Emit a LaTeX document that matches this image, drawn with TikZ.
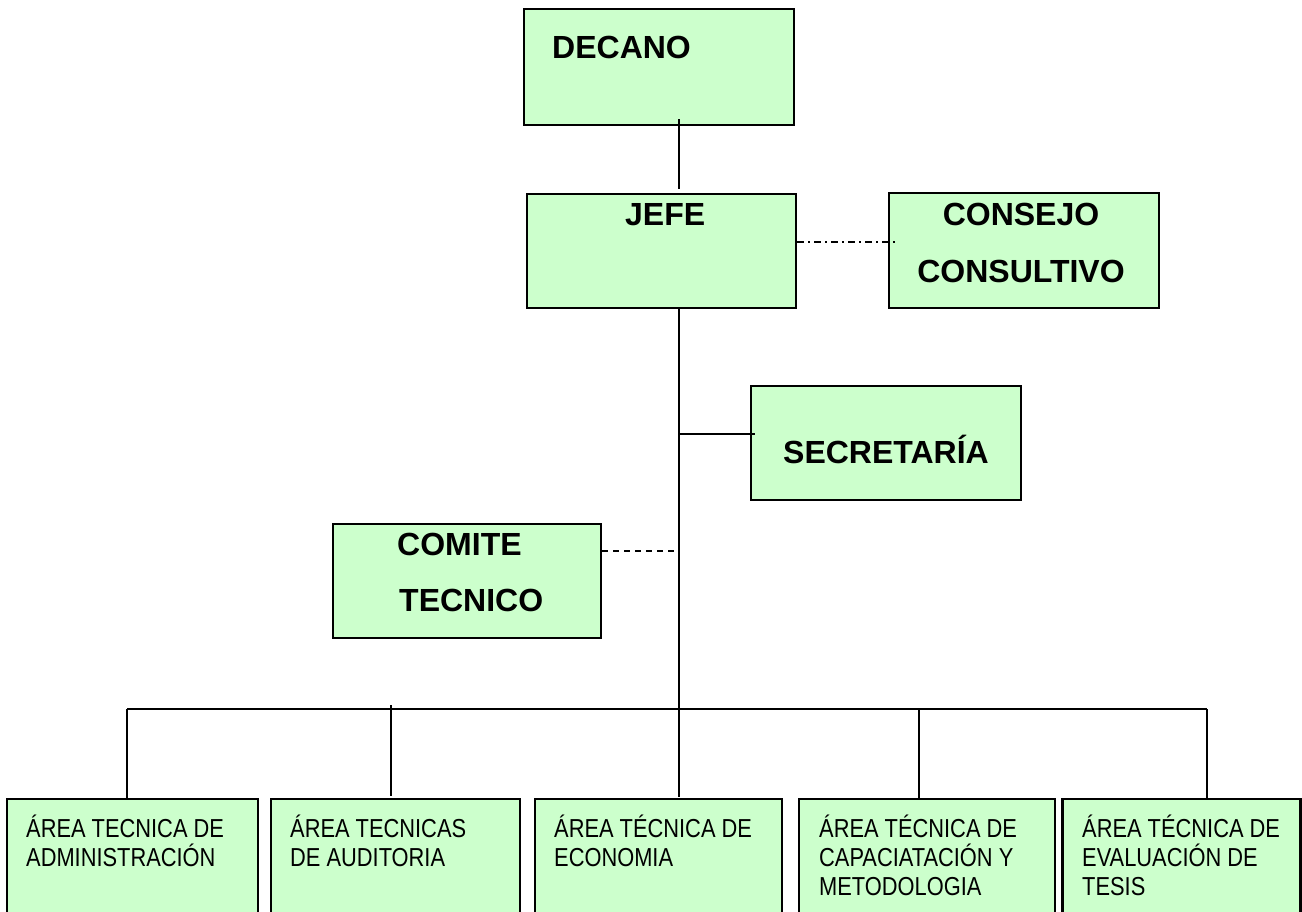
\documentclass[tikz,border=0pt]{standalone}
\usepackage{fontspec}
\setmainfont{Liberation Sans}
\newfontfamily\narrowfont{Liberation Sans}[FakeStretch=0.84]
\usetikzlibrary{calc}
\definecolor{boxgreen}{HTML}{CCFFCC}
\tikzset{
  box/.style={draw=black, line width=2.2pt, fill=boxgreen, rectangle, inner sep=0pt},
  lbl/.style={inner sep=0pt, anchor=base west, font=\bfseries\fontsize{32}{32}\selectfont},
  clbl/.style={inner sep=0pt, anchor=base, font=\bfseries\fontsize{32}{32}\selectfont},
  sm/.style={inner sep=0pt, anchor=base west, font=\narrowfont\fontsize{26}{26}\selectfont},
  conn/.style={line width=1.8pt, draw=black},
}
\begin{document}
\begin{tikzpicture}[x=1pt, y=-1pt]
\useasboundingbox (0,0) rectangle (1302,911);
\clip (0,0) rectangle (1302,911);
\fill[white] (0,0) rectangle (1302,911);

% boxes
\node[box, minimum width=270pt, minimum height=116pt] (dec) at (659,67) {};
\node[box, minimum width=269pt, minimum height=114pt] (jefe) at (661.5,251) {};
\node[box, minimum width=270pt, minimum height=115pt] (cons) at (1024,250.5) {};
\node[box, minimum width=270pt, minimum height=114pt] (sec) at (886,443) {};
\node[box, minimum width=268pt, minimum height=114pt] (com) at (467,581) {};
\node[box, minimum width=251pt, minimum height=180pt] (b1) at (132.5,889) {};
\node[box, minimum width=249pt, minimum height=180pt] (b2) at (395.5,889) {};
\node[box, minimum width=247pt, minimum height=180pt] (b3) at (658.5,889) {};
\node[box, minimum width=256pt, minimum height=180pt] (b4) at (927,889) {};
\node[box, minimum width=238pt, minimum height=180pt] (b5) at (1181.5,889) {};

% texts
\node[lbl] (tdec) at (552,58) {DECANO};
\node[lbl] (tjefe) at (625,225) {JEFE};
\node[clbl] (tcons1) at (1021,225) {CONSEJO};
\node[clbl] (tcons2) at (1021,282) {CONSULTIVO};
\node[clbl] (tsec) at (886,463) {SECRETARÍA};
\node[lbl] (tcom1) at (397,555) {COMITE};
\node[lbl] (tcom2) at (399,611) {TECNICO};

\node[sm] (t1a) at (26,837) {ÁREA TECNICA DE};
\node[sm] (t1b) at (26,866) {ADMINISTRACIÓN};
\node[sm] (t2a) at (290,837) {ÁREA TECNICAS};
\node[sm] (t2b) at (290,866) {DE AUDITORIA};
\node[sm] (t3a) at (554,837) {ÁREA TÉCNICA DE};
\node[sm] (t3b) at (554,866) {ECONOMIA};
\node[sm] (t4a) at (819,837) {ÁREA TÉCNICA DE};
\node[sm] (t4b) at (819,866) {CAPACIATACIÓN Y};
\node[sm] (t4c) at (819,895) {METODOLOGIA};
\node[sm] (t5a) at (1082,837) {ÁREA TÉCNICA DE};
\node[sm] (t5b) at (1082,866) {EVALUACIÓN DE};
\node[sm] (t5c) at (1082,895) {TESIS};

% trunk coordinates
\coordinate (tr) at (679,0);
\coordinate (sj) at (679,434);
\coordinate (cj) at (679,551);
\coordinate (busL) at (127,709);
\coordinate (busR) at (1207,709);
\coordinate (d1) at (127,709);
\coordinate (d2) at (391,705);
\coordinate (d3) at (679,709);
\coordinate (d4) at (919,709);
\coordinate (d5) at (1207,709);
\coordinate (cr) at (895,242);

% connectors
\draw[conn] ([yshift=7pt]dec.south -| tr) -- ([yshift=4pt]jefe.north -| tr);
\draw[conn] (jefe.south -| tr) -- (d3) -- ([yshift=1pt]b3.north -| d3);
\draw[conn] (sj) -- ([xshift=5pt]sec.west |- sj);
\draw[conn, dash pattern=on 7pt off 4pt on 2pt off 4pt] (jefe.east |- cr) -- (cr);
\draw[conn, dash pattern=on 6pt off 5pt] (com.east |- cj) -- (cj);
\draw[conn] (busL) -- (busR);
\draw[conn] (d1) -- (d1 |- b1.north);
\draw[conn] (d2) -- ([yshift=2pt]d2 |- b2.north);
\draw[conn] (d4) -- (d4 |- b4.north);
\draw[conn] (d5) -- (d5 |- b5.north);
\end{tikzpicture}
\end{document}
